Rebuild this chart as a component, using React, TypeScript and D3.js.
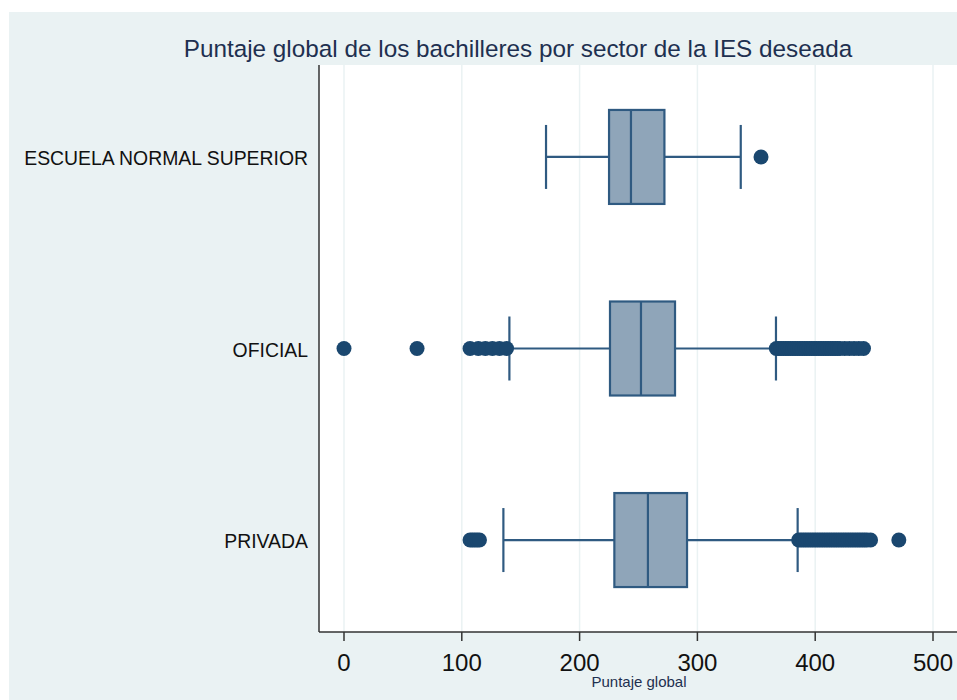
import React from "react";
import * as d3 from "d3";

const categories = ["ESCUELA NORMAL SUPERIOR", "OFICIAL", "PRIVADA"];
const whiskerLow = [171.5, 140.4, 135.3];
const q1 = [225, 225.8, 229.5];
const median = [243.6, 252.1, 258];
const q3 = [272, 281, 291.2];
const whiskerHigh = [336.8, 366.7, 385.1];

const outliersEscuela = [354];
const outliersOficial = [
  0, 62, 107, 114, 120, 126, 132, 138,
  367, 369, 371, 373, 375, 377, 379, 381, 383, 385, 387, 389, 391, 393, 395, 397, 399,
  401, 403, 405, 407, 409, 411, 413, 415, 417, 419, 421, 425, 429, 433, 437, 441,
];
const outliersPrivada = [
  107, 109, 111, 113, 115,
  386, 388, 390, 392, 394, 396, 398, 400, 402, 404, 406, 408, 410, 412, 414, 416, 418,
  420, 422, 424, 426, 428, 430, 432, 434, 436, 438, 440, 442, 444, 447, 471,
];
const outliers = [outliersEscuela, outliersOficial, outliersPrivada];

const xTicks = [0, 100, 200, 300, 400, 500];

const title = "Puntaje global de los bachilleres por sector de la IES deseada";
const xTitle = "Puntaje global";

const W = 957;
const H = 700;
const plotLeft = 319;
const plotRight = 957;
const plotTop = 65;
const plotBottom = 632;

const navy = "#1a476f";
const boxStroke = "#2f5a81";
const boxFill = "#8fa5b9";
const bg = "#eaf2f3";

export default function App() {
  const x = d3.scaleLinear().domain([0, 500]).range([344, 933]);
  const y = d3
    .scalePoint<string>()
    .domain(categories)
    .range([plotTop, plotBottom])
    .padding(0.48);

  const boxHalf = 47;
  const capHalf = 32;

  return (
    <svg
      width={W}
      height={H}
      style={{ position: "absolute", left: 0, top: 0, display: "block" }}
      fontFamily="Liberation Sans, Arial, sans-serif"
    >
      <rect x={0} y={0} width={W} height={H} fill="#ffffff" />
      <rect x={9} y={12} width={W - 9} height={H - 12} fill={bg} />
      <rect
        x={plotLeft}
        y={plotTop}
        width={plotRight - plotLeft}
        height={plotBottom - plotTop}
        fill="#ffffff"
      />
      {xTicks.map((t) => (
        <line
          key={"g" + t}
          x1={x(t)}
          x2={x(t)}
          y1={plotTop}
          y2={plotBottom}
          stroke={bg}
          strokeWidth={1.5}
        />
      ))}
      <text
        x={518}
        y={48}
        textAnchor="middle"
        dominantBaseline="central"
        fontSize={24.3}
        fill="#1e3050"
      >
        {title}
      </text>
      {categories.map((c, i) => {
        const cy = y(c)!;
        return (
          <g key={c}>
            <text
              x={308}
              y={cy + 1}
              textAnchor="end"
              dominantBaseline="central"
              fontSize={19.4}
              fill="#111"
            >
              {c}
            </text>
            <line
              x1={x(whiskerLow[i])}
              x2={x(q1[i])}
              y1={cy}
              y2={cy}
              stroke={boxStroke}
              strokeWidth={2.2}
            />
            <line
              x1={x(q3[i])}
              x2={x(whiskerHigh[i])}
              y1={cy}
              y2={cy}
              stroke={boxStroke}
              strokeWidth={2.2}
            />
            <line
              x1={x(whiskerLow[i])}
              x2={x(whiskerLow[i])}
              y1={cy - capHalf}
              y2={cy + capHalf}
              stroke={boxStroke}
              strokeWidth={2.2}
            />
            <line
              x1={x(whiskerHigh[i])}
              x2={x(whiskerHigh[i])}
              y1={cy - capHalf}
              y2={cy + capHalf}
              stroke={boxStroke}
              strokeWidth={2.2}
            />
            <rect
              x={x(q1[i])}
              y={cy - boxHalf}
              width={x(q3[i]) - x(q1[i])}
              height={boxHalf * 2}
              fill={boxFill}
              stroke={boxStroke}
              strokeWidth={2.2}
            />
            <line
              x1={x(median[i])}
              x2={x(median[i])}
              y1={cy - boxHalf}
              y2={cy + boxHalf}
              stroke={boxStroke}
              strokeWidth={2.2}
            />
            {outliers[i].map((v, j) => (
              <circle key={j} cx={x(v)} cy={cy} r={7.5} fill={navy} />
            ))}
          </g>
        );
      })}
      <line
        x1={plotLeft}
        x2={plotLeft}
        y1={plotTop}
        y2={plotBottom}
        stroke="#333"
        strokeWidth={1.5}
      />
      <line
        x1={plotLeft}
        x2={plotRight}
        y1={plotBottom}
        y2={plotBottom}
        stroke="#333"
        strokeWidth={1.5}
      />
      {xTicks.map((t) => (
        <g key={"t" + t}>
          <line
            x1={x(t)}
            x2={x(t)}
            y1={plotBottom}
            y2={plotBottom + 9}
            stroke="#333"
            strokeWidth={1.5}
          />
          <text
            x={x(t)}
            y={662}
            textAnchor="middle"
            dominantBaseline="central"
            fontSize={24}
            fill="#111"
          >
            {t}
          </text>
        </g>
      ))}
      <text
        x={639}
        y={681}
        textAnchor="middle"
        dominantBaseline="central"
        fontSize={15}
        fill="#1e3050"
      >
        {xTitle}
      </text>
    </svg>
  );
}
